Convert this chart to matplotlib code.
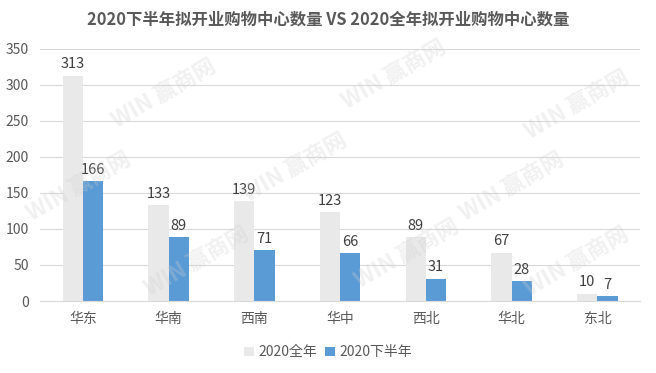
import matplotlib
matplotlib.use("Agg")
import matplotlib.pyplot as plt
import numpy as np

plt.rcParams['font.family'] = ['Noto Sans CJK SC', 'DejaVu Sans']

categories = ['华东', '华南', '西南', '华中', '西北', '华北', '东北']
full_year = [313, 133, 139, 123, 89, 67, 10]
second_half = [166, 89, 71, 66, 31, 28, 7]
series_names = ['2020全年', '2020下半年']
title = '2020下半年拟开业购物中心数量 VS 2020全年拟开业购物中心数量'

gray = '#e9e9e9'
blue = '#5b9bd5'
txt = '#595959'

fig = plt.figure(figsize=(6.56, 3.73), dpi=100)
ax = fig.add_axes([0.061, 0.193, 0.915, 0.676])

x = np.arange(len(categories))
w = 0.235
b1 = ax.bar(x - w/2, full_year, w, color=gray, label=series_names[0], zorder=2)
b2 = ax.bar(x + w/2, second_half, w, color=blue, label=series_names[1], zorder=2)

for rect, v in zip(b1, full_year):
    ax.text(rect.get_x() + rect.get_width()/2, v + 6, str(v), ha='center', va='bottom',
            fontsize=10.5, color='#404040')
for rect, v in zip(b2, second_half):
    ax.text(rect.get_x() + rect.get_width()/2, v + 6, str(v), ha='center', va='bottom',
            fontsize=10.5, color='#404040')

ax.set_ylim(0, 350)
ax.set_xlim(-0.5, len(categories) - 0.5)
ax.set_yticks(np.arange(0, 351, 50))
ax.set_xticks(x)
ax.set_xticklabels(categories)
ax.tick_params(axis='both', length=0, labelsize=10, colors=txt)
ax.tick_params(axis='x', pad=8)
ax.tick_params(axis='y', pad=8)
ax.grid(axis='y', color='#d9d9d9', linewidth=0.8, zorder=0)
for s in ['top', 'right', 'left']:
    ax.spines[s].set_visible(False)
ax.spines['bottom'].set_color('#d9d9d9')

fig.text(0.5, 0.948, title, ha='center', va='center', fontsize=11.8,
         fontweight='bold', color=txt)

leg = fig.legend(handles=[b1, b2], labels=series_names, loc='center',
                 bbox_to_anchor=(0.5, 0.055), ncol=2, frameon=False,
                 fontsize=10, handlelength=0.7, handleheight=0.7,
                 handletextpad=0.3, columnspacing=0.6)
for t in leg.get_texts():
    t.set_color(txt)

# faint watermark (kept inside the figure)
for (wx, wy) in [(0.25, 0.75), (0.6, 0.8), (0.88, 0.72), (0.12, 0.5), (0.45, 0.55),
                 (0.78, 0.5), (0.3, 0.3), (0.62, 0.32), (0.88, 0.3)]:
    fig.text(wx, wy, 'WIN 赢商网', rotation=30, fontsize=16, fontweight='bold',
             color='#cfcfcf', alpha=0.3, ha='center', va='center', zorder=0)

fig.savefig('out.png', dpi=100)
